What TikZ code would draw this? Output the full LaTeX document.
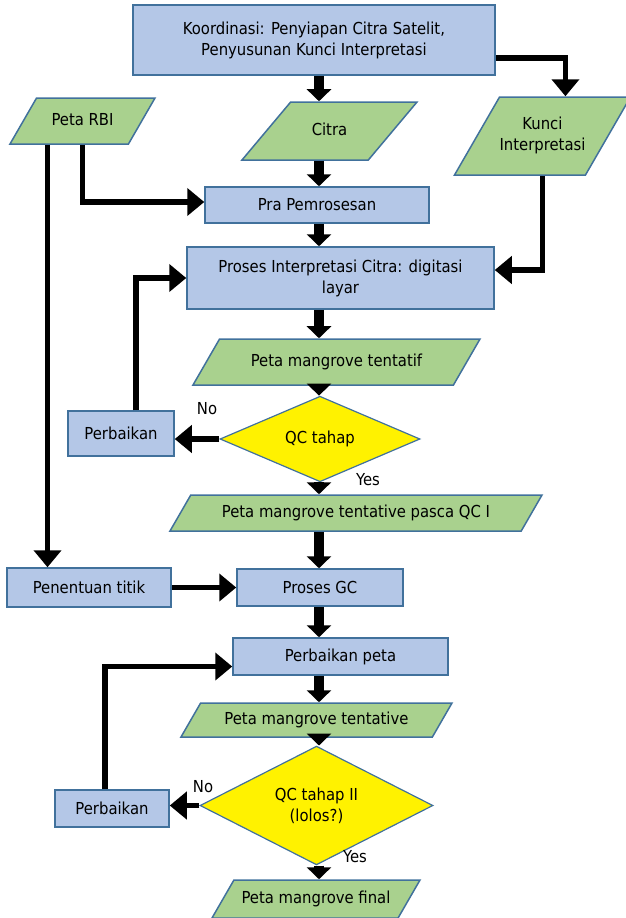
\documentclass[tikz,border=0pt]{standalone}
\usepackage{fontspec}
\setmainfont{DejaVu Sans Condensed}
\usepackage{xcolor}
\usepackage{tikz}
\usetikzlibrary{positioning,arrows.meta,shapes.geometric}

\definecolor{boxblue}{HTML}{B4C7E7}
\definecolor{datagreen}{HTML}{A9D18E}
\definecolor{edgeblue}{HTML}{41719C}

\begin{document}
\begin{tikzpicture}[x=1pt, y=-1pt, font=\fontsize{16.5}{21}\selectfont,
    procbox/.style={draw=edgeblue, line width=1.5pt, fill=boxblue, inner sep=0pt, align=center},
    databox/.style={trapezium, trapezium left angle=60, trapezium right angle=120,
        trapezium stretches body, draw=edgeblue, line width=1.5pt, fill=datagreen,
        inner xsep=0pt, text height=12pt, text depth=4pt, align=center},
    decbox/.style={diamond, draw=edgeblue, line width=1.2pt, fill=yellow, inner sep=0pt, align=center},
    mainflow/.style={line width=10pt, -{Triangle[length=12pt,width=24pt]}},
    sideflow/.style={line width=5.5pt, -{Triangle[length=17pt,width=27pt]}}]
\useasboundingbox (0,0) rectangle (625,918);

\node[procbox, minimum width=362pt, minimum height=70pt] (proc_koordinasi) at (314,40) {Koordinasi: Penyiapan Citra Satelit,\\Penyusunan Kunci Interpretasi};
\node[databox, minimum width=145pt, inner ysep=15pt] (data_rbi) at (82.5,121) {Peta RBI};
\node[databox, trapezium left angle=50, trapezium right angle=130, minimum width=175pt, inner ysep=21pt] (data_citra) at (329.5,131) {Citra};
\node[databox, minimum width=163pt, text height=33pt, inner ysep=20.5pt] (data_kunci) at (542.5,136) {Kunci\\Interpretasi};
\node[procbox, minimum width=224pt, minimum height=36pt] (proc_pra) at (317,205) {Pra Pemrosesan};
\node[procbox, minimum width=307pt, minimum height=62pt] (proc_interpretasi) at (340.5,278) {Proses Interpretasi Citra: digitasi\\layar};
\node[databox, minimum width=287pt, inner ysep=15pt] (data_tentatif) at (336.5,362) {Peta mangrove tentatif};
\node[decbox, minimum width=200pt, minimum height=68pt] (dec_qc_1) at (320,439) {QC tahap};
\node[procbox, minimum width=106pt, minimum height=45pt] (proc_perbaikan_1) at (121,433.5) {Perbaikan};
\node[databox, minimum width=372pt, inner ysep=10pt] (data_pasca) at (356,513) {Peta mangrove tentative pasca QC I};
\node[procbox, minimum width=164pt, minimum height=39pt] (proc_penentuan) at (89,587.5) {Penentuan titik};
\node[procbox, minimum width=166pt, minimum height=37pt] (proc_gc) at (320,587.5) {Proses GC};
\node[procbox, minimum width=215pt, minimum height=37pt] (proc_perbaikan_peta) at (340.5,656.5) {Perbaikan peta};
\node[databox, minimum width=271pt, inner ysep=9pt] (data_tentative) at (316.5,720) {Peta mangrove tentative};
\node[decbox, minimum width=233pt, minimum height=105pt] (dec_qc_2) at (316.5,805.5) {QC tahap II\\(lolos?)};
\node[procbox, minimum width=114pt, minimum height=37pt] (proc_perbaikan_2) at (112,808.5) {Perbaikan};
\node[databox, minimum width=208pt, inner ysep=11pt] (data_final) at (316,899) {Peta mangrove final};

\node (label_no_1) at (207,409) {No};
\node (label_yes_1) at (368,480) {Yes};
\node (label_no_2) at (203,787) {No};
\node (label_yes_2) at (355,857) {Yes};

\coordinate (flow_axis) at (319,0);

\draw[mainflow] (proc_koordinasi.south -| flow_axis) -- (data_citra.north -| flow_axis);
\draw[mainflow] (data_citra.south -| flow_axis) -- (proc_pra.north -| flow_axis);
\draw[mainflow] (proc_pra.south -| flow_axis) -- (proc_interpretasi.north -| flow_axis);
\draw[mainflow] (proc_interpretasi.south -| flow_axis) -- (data_tentatif.north -| flow_axis);
\draw[mainflow] (data_tentatif.south -| flow_axis) -- (dec_qc_1.north -| flow_axis);
\draw[mainflow] (dec_qc_1.south -| flow_axis) -- (data_pasca.north -| flow_axis);
\draw[mainflow] (data_pasca.south -| flow_axis) -- (proc_gc.north -| flow_axis);
\draw[mainflow] (proc_gc.south -| flow_axis) -- (proc_perbaikan_peta.north -| flow_axis);
\draw[mainflow] (proc_perbaikan_peta.south -| flow_axis) -- (data_tentative.north -| flow_axis);
\draw[mainflow] (data_tentative.south -| flow_axis) -- (dec_qc_2.north -| flow_axis);
\draw[mainflow] (dec_qc_2.south -| flow_axis) -- (data_final.north -| flow_axis);

\draw[sideflow] ([yshift=-18pt]proc_koordinasi.east) -| (data_kunci.top side);
\draw[sideflow] (data_kunci.south) |- ([yshift=8pt]proc_interpretasi.east);
\draw[sideflow] (data_rbi.south) |- ([yshift=3pt]proc_pra.west);
\draw[sideflow] ([xshift=-35pt]data_rbi.south) -- ([xshift=-35pt]data_rbi.south |- proc_penentuan.north);
\draw[sideflow] (dec_qc_1.west) -- (dec_qc_1.west -| proc_perbaikan_1.east);
\draw[sideflow] ([xshift=15pt]proc_perbaikan_1.north) |- (proc_interpretasi.west);
\draw[sideflow] (proc_penentuan.east) -- (proc_gc.west);
\draw[sideflow] (dec_qc_2.west) -- (dec_qc_2.west -| proc_perbaikan_2.east);
\draw[sideflow] ([xshift=-7pt]proc_perbaikan_2.north) |- ([yshift=-10pt]proc_perbaikan_peta.west);

\end{tikzpicture}
\end{document}
